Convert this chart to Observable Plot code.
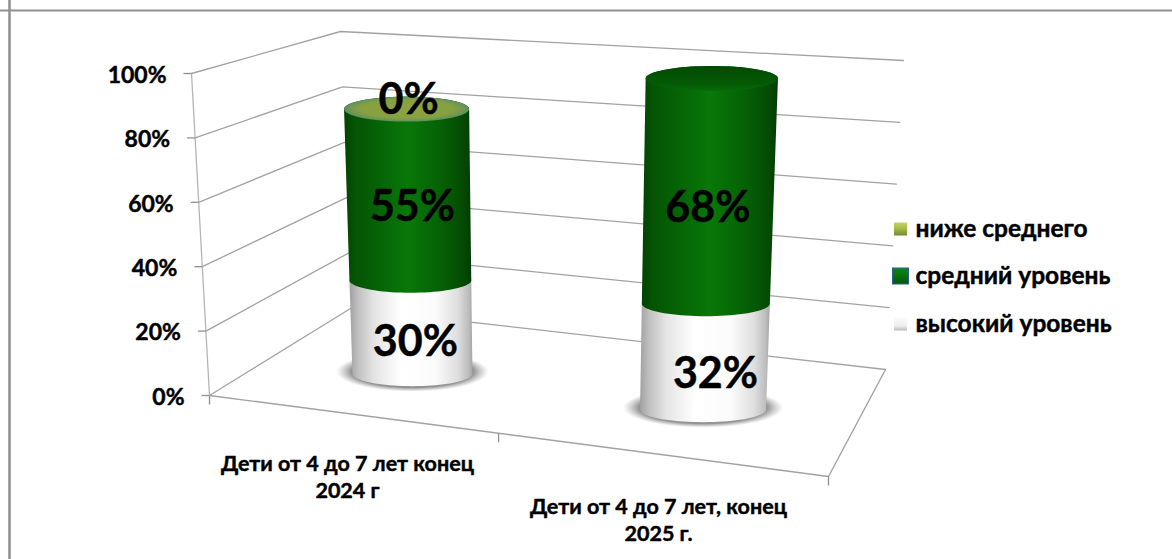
<!DOCTYPE html>
<html lang="ru">
<head>
<meta charset="utf-8">
<script src="https://cdn.jsdelivr.net/npm/d3@7"></script>
<script src="https://cdn.jsdelivr.net/npm/@observablehq/plot@0.6"></script>
<style>html,body{margin:0;padding:0;background:#fff}svg{display:block}</style>
</head>
<body>
<div id="chart"></div>
<script>
// ---- data ----
const categories = ["Дети от 4 до 7 лет конец\n2024 г", "Дети от 4 до 7 лет, конец\n2025 г."];
const seriesNames = ["высокий уровень", "средний уровень", "ниже среднего"];
const highLevel = [30, 32];
const midLevel = [55, 68];
const lowLevel = [0, null];
const valueTicks = [0, 20, 40, 60, 80, 100];

// ---- layout (3D box of the chart, in page units) ----
const W = 1172, H = 559;
const corners = {
  f0: [[209, 395], [828, 476]], // front edge at value 0 (left, right)
  b0: [[350, 308], [885, 369]], // back edge at value 0
  f1: [[191, 73], [844, 108]],  // front edge at value 100
  b1: [[340, 31], [903, 60]]    // back edge at value 100
};
const mix = (a, b, t) => [a[0] + (b[0] - a[0]) * t, a[1] + (b[1] - a[1]) * t];
function project(u, d, v) {
  const t = v / 100;
  const floor = mix(mix(corners.f0[0], corners.f0[1], u), mix(corners.b0[0], corners.b0[1], u), d);
  const roof = mix(mix(corners.f1[0], corners.f1[1], u), mix(corners.b1[0], corners.b1[1], u), d);
  return mix(floor, roof, t);
}
const barU = [0.24, 0.74], barD = 0.45;
const baseRx = [60, 63], ry = 12.5;
const rxAt = (i, v) => baseRx[i] * (1 + 0.0005 * v);
const labelFont = "Lato, Carlito, 'Open Sans', sans-serif";

function arc(i, v, a0, a1) {
  const [cx, cy] = project(barU[i], barD, v);
  return d3.range(0, 41).map((k) => {
    const a = a0 + (a1 - a0) * k / 40;
    return {x: cx + rxAt(i, v) * Math.cos(a), y: cy + ry * Math.sin(a)};
  });
}
// lower arc of the bottom ellipse (left -> bottom -> right), then upper arc of the top ellipse (right -> top -> left)
const body = (i, v0, v1) => [...arc(i, v0, Math.PI, 0), ...arc(i, v1, 0, -Math.PI)];

const closed = (pts, fill, extra = {}) => Plot.line(pts, {x: "x", y: "y", fill, stroke: "none", curve: "linear-closed", ...extra});

// walls
const wallRows = valueTicks.flatMap((v) => [
  {v, p: project(0, 0, v)}, {v, p: project(0, 1, v)}, {v, p: project(1, 1, v)}
]);
const floorRows = [project(0, 0, 0), project(1, 0, 0), project(1, 1, 0)].map((p) => ({p}));
const leftAxis = [project(0, 0, 0), project(0, 0, 100)].map((p) => ({p}));
const gridColor = "#a2a2a2";
const textStyle = {fontWeight: 700, fontFamily: labelFont, fill: "#000", stroke: "#000", strokeWidth: 0.45};

const marks = [
  // defs
  () => {
    const s = d3.create("svg:g");
    const defs = s.append("defs");
    const lin = (id, stops, vertical) => {
      const g = defs.append("linearGradient").attr("id", id);
      if (vertical) g.attr("x1", 0).attr("x2", 0).attr("y1", 0).attr("y2", 1);
      stops.forEach(([o, c]) => g.append("stop").attr("offset", o).attr("stop-color", c));
    };
    lin("whiteBody", [[0, "#a0a0a0"], [0.07, "#c0c0c0"], [0.2, "#e4e4e4"], [0.42, "#ffffff"], [0.7, "#fbfbfb"], [0.88, "#dedede"], [0.97, "#bcbcbc"], [1, "#a4a4a4"]]);
    lin("greenBody", [[0, "#034203"], [0.08, "#045404"], [0.3, "#066606"], [0.5, "#087808"], [0.75, "#056205"], [0.94, "#044a04"], [1, "#033a03"]]);
    lin("greenCap", [[0, "#034a03"], [0.7, "#045a04"], [1, "#066c06"]], true);
    lin("swOlive", [[0, "#c4d46a"], [0.45, "#a8bc44"], [1, "#6f8a34"]], true);
    lin("swGreen", [[0, "#0c8a14"], [1, "#05560c"]], true);
    lin("swWhite", [[0, "#fbfbfb"], [0.65, "#eeeeee"], [1, "#b8b8b8"]], true);
    const r = defs.append("radialGradient").attr("id", "olive");
    [[0, "#8ea442"], [0.75, "#86a040"], [1, "#5f9060"]].forEach(([o, c]) => r.append("stop").attr("offset", o).attr("stop-color", c));
    const sh = defs.append("radialGradient").attr("id", "shadow");
    [[0, "#8c8c8c", 1], [0.8, "#949494", 1], [1, "#b0b0b0", 0]].forEach(([o, c, a]) => sh.append("stop").attr("offset", o).attr("stop-color", c).attr("stop-opacity", a));
    return s.node();
  },
  // frame
  Plot.ruleY([10], {stroke: "#8f8f8f", strokeWidth: 2}),
  Plot.ruleX([9], {stroke: "#8f8f8f", strokeWidth: 2.5}),
  // walls and floor
  Plot.line(wallRows, {x: (d) => d.p[0], y: (d) => d.p[1], z: "v", stroke: gridColor, strokeWidth: 1.3}),
  Plot.line(floorRows, {x: (d) => d.p[0], y: (d) => d.p[1], stroke: gridColor, strokeWidth: 1.4}),
  Plot.line(leftAxis, {x: (d) => d.p[0], y: (d) => d.p[1], stroke: "#b5b5b5", strokeWidth: 1.3}),
  // value ticks and labels
  Plot.link(valueTicks, {
    x1: (v) => project(0, 0, v)[0], y1: (v) => project(0, 0, v)[1],
    x2: (v) => project(0, 0, v)[0] - 8, y2: (v) => project(0, 0, v)[1],
    stroke: "#909090", strokeWidth: 1.3
  }),
  Plot.link([0, 0.467, 1], {
    x1: (u) => project(u, 0, 0)[0], y1: (u) => project(u, 0, 0)[1],
    x2: (u) => project(u, 0, 0)[0], y2: (u) => project(u, 0, 0)[1] + 9,
    stroke: "#909090", strokeWidth: 1.3
  }),
  Plot.text(valueTicks, {
    x: (v) => project(0, 0, v)[0] - 25, y: (v) => project(0, 0, v)[1] + 2,
    text: (v) => `${v}%`, textAnchor: "end", fontSize: 23, ...textStyle
  })
];

// cylinders
categories.forEach((_, i) => {
  const a = highLevel[i], b = a + midLevel[i];
  const [cx, cy] = project(barU[i], barD, 0);
  const shadow = d3.range(0, 61).map((k) => {
    const t = 2 * Math.PI * k / 60;
    return {x: cx + baseRx[i] * 1.27 * Math.cos(t), y: cy - 2 + 20 * Math.sin(t)};
  });
  marks.push(closed(shadow, "url(#shadow)"));
  marks.push(closed(body(i, 0, a), "url(#whiteBody)"));
  marks.push(closed(body(i, a, b), "url(#greenBody)"));
  const cap = arc(i, b, 0, 2 * Math.PI);
  marks.push(closed(cap, lowLevel[i] === null ? "url(#greenCap)" : "url(#olive)"));
});

// data labels
const labelNudge = {high: [[4, 15], [11, 18]], mid: [[4, 13], [-1, 17]], low: [[2, -9], [0, 0]]};
const labelRows = [];
categories.forEach((_, i) => {
  const a = highLevel[i], m = midLevel[i];
  const put = (value, mid, nudge) => {
    if (value === null) return;
    const p = project(barU[i], barD, mid);
    labelRows.push({x: p[0] + nudge[0], y: p[1] + nudge[1], t: `${value}%`});
  };
  put(a, a / 2, labelNudge.high[i]);
  put(m, a + m / 2, labelNudge.mid[i]);
  put(lowLevel[i], a + m, labelNudge.low[i]);
});
marks.push(Plot.text(labelRows, {x: "x", y: "y", text: "t", fontSize: 43, ...textStyle}));

// category labels
const categoryAnchor = [[347, 475], [658, 518]];
marks.push(Plot.text(categories, {
  x: (_, i) => categoryAnchor[i][0], y: (_, i) => categoryAnchor[i][1],
  text: (d) => d, fontSize: 21.5, lineHeight: 1.25, ...textStyle
}));

// legend
const legendOrder = [2, 1, 0];
const legendY = [229, 276, 324];
const legendFill = ["url(#swOlive)", "url(#swGreen)", "url(#swWhite)"];
const legendRows = legendOrder.map((s, k) => ({name: seriesNames[s], y: legendY[k], fill: legendFill[k], half: k === 1 ? 8 : 6.5}));
marks.push(Plot.rect(legendRows, {
  x1: (d) => 900.5 - d.half, x2: (d) => 900.5 + d.half,
  y1: (d) => d.y - d.half, y2: (d) => d.y + d.half,
  fill: (d) => d.fill, stroke: (d) => d.half === 8 ? "#2f5f8f" : "none", strokeWidth: 1
}));
marks.push(Plot.text(legendRows, {
  x: 915, y: (d) => d.y, text: "name", textAnchor: "start", fontSize: 24.5, ...textStyle
}));

const plot = Plot.plot({
  width: W, height: H, margin: 0,
  x: {domain: [0, W], range: [0, W], axis: null},
  y: {domain: [0, H], range: [0, H], axis: null},
  color: {type: "identity"},
  style: {background: "#fff"},
  marks
});
document.getElementById("chart").append(plot);
</script>
</body>
</html>
